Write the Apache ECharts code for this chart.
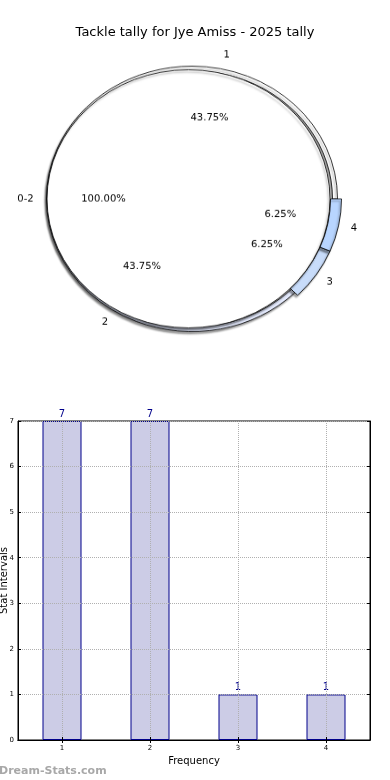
<!DOCTYPE html>
<html>
<head>
<meta charset="utf-8">
<script src="https://cdn.jsdelivr.net/npm/echarts@6/dist/echarts.min.js"></script>
<style>
  html, body { margin: 0; padding: 0; background: #fff; }
  #wrap { position: relative; width: 390px; height: 780px; overflow: hidden; }
  #bar { position: absolute; left: 0; top: 0; width: 390px; height: 780px; }
  #pie { position: absolute; left: 0; top: 0; width: 390px; height: 400px;
         transform: scaleY(0.912); transform-origin: 0 0; z-index: 2; }
</style>
</head>
<body>
<div id="wrap"><div id="bar"></div><div id="pie"></div></div>
<script>
// ---- data ----
const titleText = 'Tackle tally for Jye Amiss - 2025 tally';
const innerCategories = ['0-2'];
const innerValues = [16];
const ringCategories = ['1', '2', '3', '4'];
const ringValues = [7, 7, 1, 1];
const barCategories = ['1', '2', '3', '4'];
const barValues = [7, 7, 1, 1];
const yAxisMin = 0, yAxisMax = 7, yAxisStep = 1;
const xAxisName = 'Frequency';
const yAxisName = 'Stat Intervals';
const watermark = 'Dream-Stats.com';

// ---- styles ----
const ringColors = ['#ffffff', '#e6ecff', '#c8dcfa', '#b8d5ff'];
const explodedIdx = [2, 3];
const FONT = 'DejaVu Sans';
const CENTER = [188.5, 218];
const RING_CENTER = [192, 218];
const LABEL_CENTER = [192, 218];
const NAME_CENTER = [195, 219];

const shadow = { shadowColor: 'rgba(0,0,0,0.4)', shadowBlur: 2, shadowOffsetX: -1.5, shadowOffsetY: 2.5 };
const hidden = { color: 'transparent', borderWidth: 0, shadowBlur: 0, shadowOffsetX: 0, shadowOffsetY: 0, shadowColor: 'transparent' };

function ringData(wantExploded) {
  return ringCategories.map((name, i) => {
    const isExp = explodedIdx.indexOf(i) >= 0;
    const visible = isExp === wantExploded;
    return {
      name: name, value: ringValues[i],
      itemStyle: visible
        ? Object.assign({ color: ringColors[i], borderColor: '#000', borderWidth: 0.8 }, shadow)
        : hidden
    };
  });
}
function labelData(cats, vals) {
  return cats.map((name, i) => ({ name: name, value: vals[i], itemStyle: hidden }));
}
const pieBase = {
  type: 'pie', startAngle: 0, clockwise: false,
  silent: true, animation: false, avoidLabelOverlap: false,
  emphasis: { disabled: true }, labelLine: { show: false }
};
const lbl = { show: true, position: 'inside', color: '#000', fontFamily: FONT, fontSize: 10 };

const pieChart = echarts.init(document.getElementById('pie'), null, { renderer: 'canvas' });
pieChart.setOption({
  backgroundColor: 'transparent',
  series: [
    Object.assign({}, pieBase, { z: 1, center: RING_CENTER, radius: [140.5, 145.5], data: ringData(false), label: { show: false } }),
    Object.assign({}, pieBase, { z: 1, center: RING_CENTER, radius: [138.5, 149.5], data: ringData(true), label: { show: false } }),
    Object.assign({}, pieBase, {
      z: 2, center: CENTER, radius: [0, 141.5], label: { show: false },
      data: innerCategories.map((n, i) => ({
        name: n, value: innerValues[i],
        itemStyle: Object.assign({ color: '#ffffff', borderColor: '#000', borderWidth: 0.8 }, shadow)
      }))
    }),
    Object.assign({}, pieBase, {
      z: 3, center: LABEL_CENTER, radius: [78, 96], data: labelData(ringCategories, ringValues),
      label: Object.assign({}, lbl, { formatter: p => p.percent.toFixed(2) + '%' })
    }),
    Object.assign({}, pieBase, {
      z: 3, center: CENTER, radius: [73, 91], data: labelData(innerCategories, innerValues),
      label: Object.assign({}, lbl, { formatter: p => p.percent.toFixed(2) + '%' })
    }),
    Object.assign({}, pieBase, {
      z: 3, center: NAME_CENTER, radius: [153, 165], data: labelData(ringCategories, ringValues),
      label: Object.assign({}, lbl, { formatter: '{b}' })
    }),
    Object.assign({}, pieBase, {
      z: 3, center: CENTER, radius: [154, 166], data: labelData(innerCategories, innerValues),
      label: Object.assign({}, lbl, { formatter: '{b}' })
    })
  ]
});

const frameAxisLine = { show: true, lineStyle: { color: '#000' } };
const frameTick = { show: true, inside: true, length: 3, lineStyle: { color: '#000' } };

const barChart = echarts.init(document.getElementById('bar'), null, { renderer: 'canvas' });
barChart.setOption({
  backgroundColor: '#fff',
  animation: false,
  title: {
    text: titleText, left: 'center', top: 21,
    textStyle: { fontFamily: FONT, fontSize: 13, fontWeight: 'normal', color: '#000' }
  },
  graphic: [{
    type: 'text', left: -1, bottom: 3,
    style: { text: watermark, fontFamily: FONT, fontSize: 11, fontWeight: 'bold', fill: '#a8a8a8' }
  }],
  grid: { left: 18, right: 20, top: 421, bottom: 40, containLabel: false, outerBoundsMode: 'none',
          show: true, borderColor: '#000', borderWidth: 1, backgroundColor: 'transparent' },
  xAxis: [{
    type: 'category', data: barCategories, z: 5, position: 'bottom',
    name: xAxisName, nameLocation: 'middle', nameGap: 16, nameMoveOverlap: false,
    nameTextStyle: { fontFamily: FONT, fontSize: 10, color: '#000' },
    axisLine: frameAxisLine,
    axisTick: Object.assign({ alignWithLabel: true }, frameTick),
    axisLabel: { fontFamily: FONT, fontSize: 7, color: '#000', margin: 5 },
    splitLine: { show: true, alignWithLabel: true, lineStyle: { color: '#b0b0b0', type: 'dotted', width: 1 } }
  }, {
    type: 'category', data: barCategories, z: 5, position: 'top',
    axisLine: frameAxisLine,
    axisTick: Object.assign({ alignWithLabel: true }, frameTick),
    axisLabel: { show: false }, splitLine: { show: false }
  }],
  yAxis: [{
    type: 'value', min: yAxisMin, max: yAxisMax, interval: yAxisStep, z: 5, position: 'left',
    name: yAxisName, nameLocation: 'middle', nameGap: 9, nameMoveOverlap: false,
    nameTextStyle: { fontFamily: FONT, fontSize: 10, color: '#000' },
    axisLine: frameAxisLine,
    axisTick: frameTick,
    axisLabel: { fontFamily: FONT, fontSize: 7, color: '#000', margin: 4 },
    splitLine: { show: true, lineStyle: { color: '#b0b0b0', type: 'dotted', width: 1 } }
  }, {
    type: 'value', min: yAxisMin, max: yAxisMax, interval: yAxisStep, z: 5, position: 'right',
    axisLine: frameAxisLine,
    axisTick: frameTick,
    axisLabel: { show: false }, splitLine: { show: false }
  }],
  series: [{
    type: 'bar', data: barValues, barWidth: 39, z: 2, xAxisIndex: 0, yAxisIndex: 0,
    itemStyle: { color: '#ccccE6', borderColor: '#00008b', borderWidth: 1 },
    label: { show: true, position: 'top', distance: 2, color: '#00008b', fontFamily: FONT, fontSize: 10 }
  }]
});
</script>
</body>
</html>
